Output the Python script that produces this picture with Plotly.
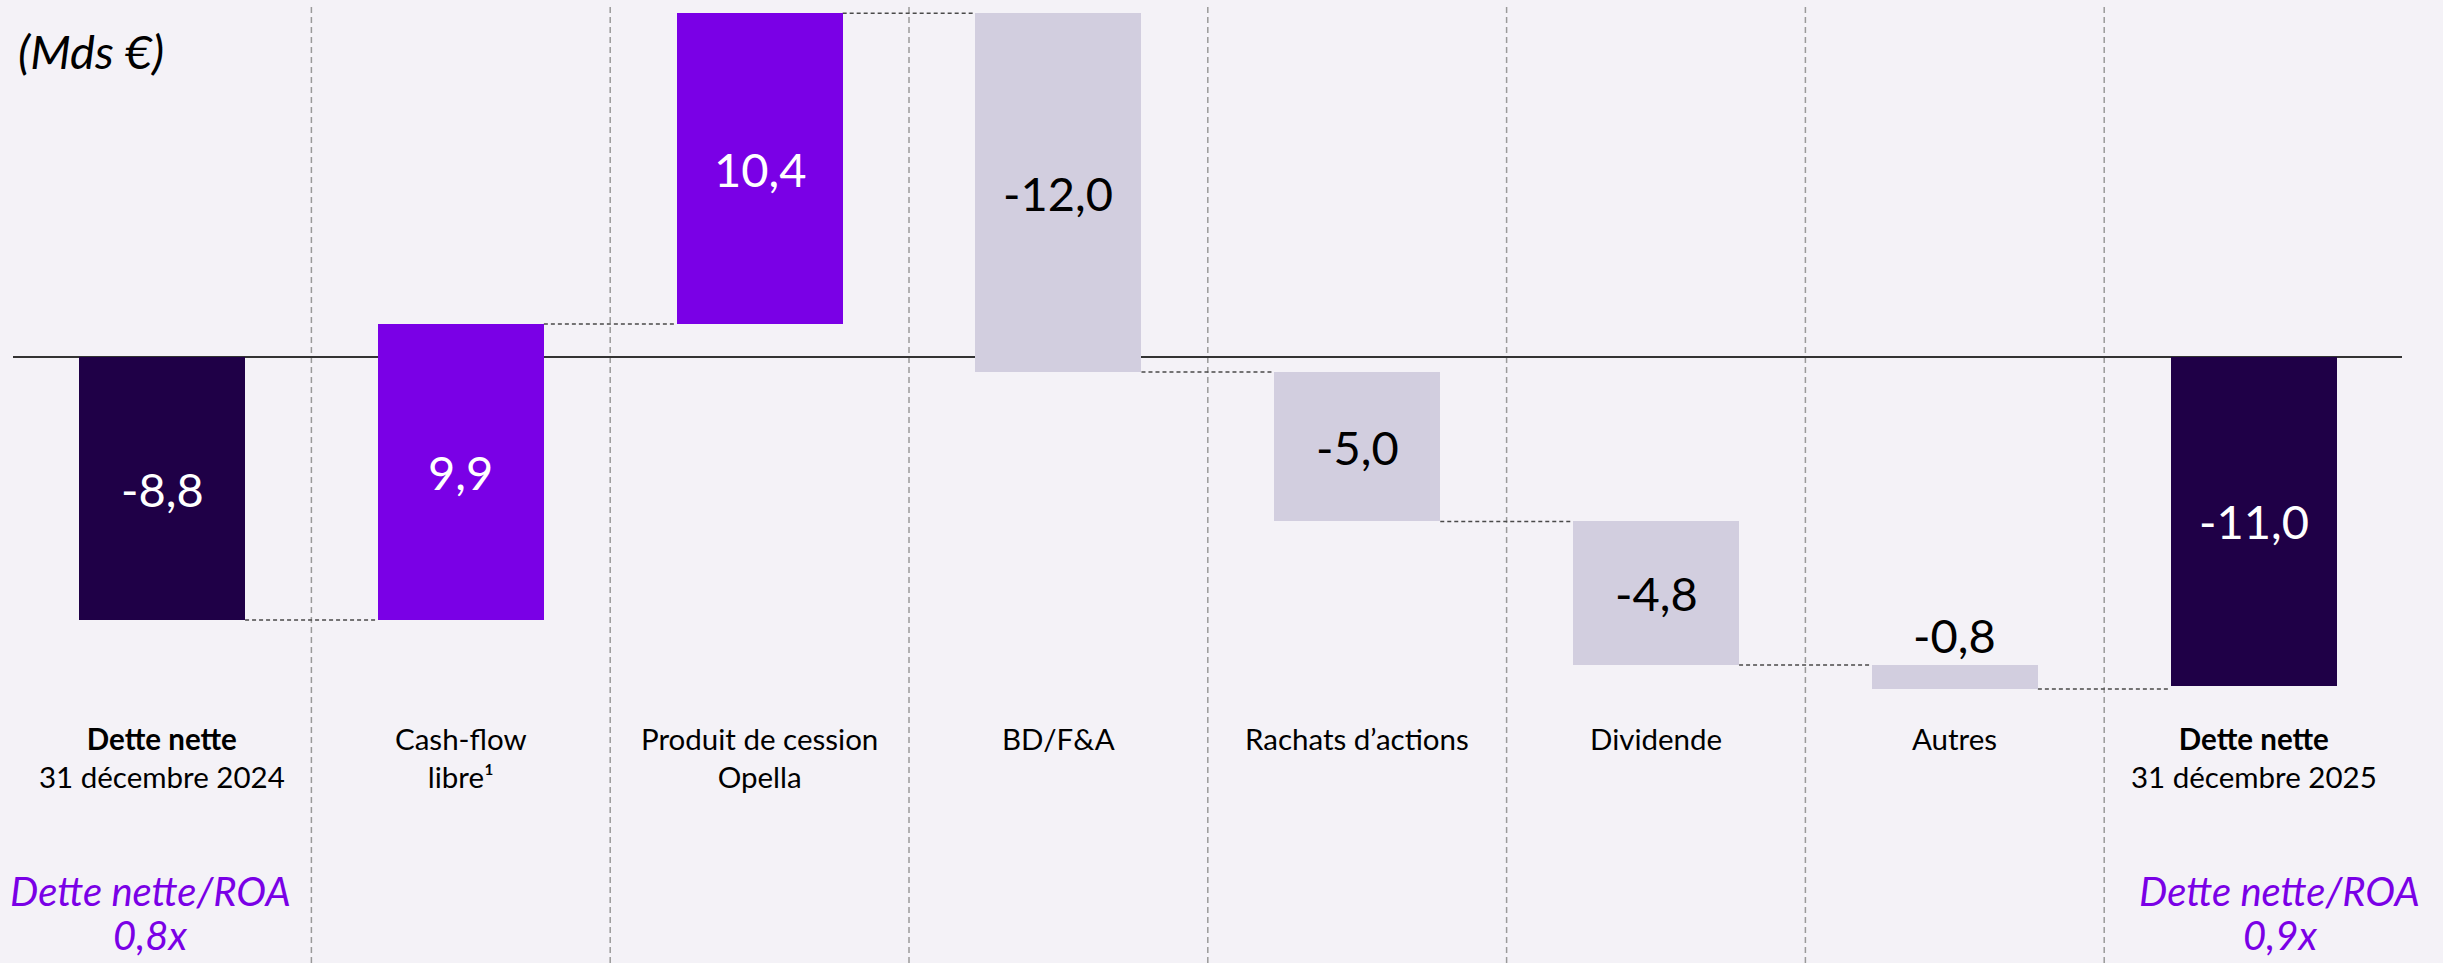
import plotly.graph_objects as go

# ---------------- data ----------------
categories = ["Dette nette 2024", "Cash-flow libre", "Produit de cession Opella", "BD/F&A",
              "Rachats d'actions", "Dividende", "Autres", "Dette nette 2025"]
category_labels = ["<b>Dette nette</b><br>31 décembre 2024", "Cash-flow<br>libre¹",
                   "Produit de cession<br>Opella", "BD/F&A", "Rachats d’actions",
                   "Dividende", "Autres", "<b>Dette nette</b><br>31 décembre 2025"]
start_value = -8.8
deltas = [9.9, 10.4, -12.0, -5.0, -4.8, -0.8]
end_value = -11.0
ratio_title = "Dette nette/ROA"
ratio_values = ["0,8x", "0,9x"]
unit_label = "<i>(Mds €)</i>"

# ---------------- styles ----------------
BG = "#F4F2F7"
DARK = "#1F0047"
PURPLE = "#7A00E6"
GREY = "#D2CEDF"
FONT = "Lato"
W, H = 2443, 963
BAR_W = 0.556

# ---------------- waterfall geometry from data ----------------
bases, heights, colors, txtcolors = [], [], [], []
bases.append(0.0); heights.append(start_value); colors.append(DARK); txtcolors.append("white")
level = start_value
levels = [level]
for d in deltas:
    bases.append(level); heights.append(d)
    colors.append(PURPLE if d > 0 else GREY)
    txtcolors.append("white" if d > 0 else "black")
    level += d
    levels.append(level)
bases.append(0.0); heights.append(end_value); colors.append(DARK); txtcolors.append("white")
values = [start_value] + deltas + [end_value]
xs = list(range(len(categories)))

fig = go.Figure()
fig.add_trace(go.Bar(x=xs, y=heights, base=bases, width=BAR_W,
                     marker=dict(color=colors, line=dict(width=0)),
                     hoverinfo="skip", showlegend=False))

# connectors
for i in range(len(categories) - 1):
    fig.add_shape(type="line", xref="x", yref="y",
                  x0=i + BAR_W / 2, x1=i + 1 - BAR_W / 2, y0=levels[i], y1=levels[i],
                  line=dict(color="#4A4A4A", width=1.5, dash="4px,3px"), layer="below")

# vertical separators
for i in range(len(categories) - 1):
    fig.add_shape(type="line", xref="x", yref="paper", x0=i + 0.5, x1=i + 0.5,
                  y0=0, y1=1 - 6 / H, line=dict(color="#9A9A9A", width=1.5, dash="6px,4px"),
                  layer="below")

# zero line
fig.add_shape(type="line", xref="paper", yref="y", x0=13 / W, x1=2402 / W, y0=0, y1=0,
              line=dict(color="#333333", width=2), layer="below")

# value labels
for i, (b, h, v) in enumerate(zip(bases, heights, values)):
    txt = f"{v:.1f}".replace(".", ",")
    if abs(h) < 1.5:
        top = max(b, b + h)
        fig.add_annotation(x=i, y=top, text=txt, showarrow=False, yanchor="bottom", yshift=0,
                           font=dict(family=FONT, size=47, color="black"))
    else:
        fig.add_annotation(x=i, y=b + h / 2, text=txt, showarrow=False, yanchor="middle",
                           font=dict(family=FONT, size=47, color=txtcolors[i]))

# category labels
for i, lab in enumerate(category_labels):
    fig.add_annotation(x=i, y=1 - 719 / H, xref="x", yref="paper", text=lab, showarrow=False,
                       yanchor="top", align="center",
                       font=dict(family=FONT, size=29.5, color="black"))

# ratio labels (two lines each)
for idx, shift, val in [(0, -12, ratio_values[0]), (len(categories) - 1, 26, ratio_values[1])]:
    for line_txt, py in [(ratio_title, 891), (val, 935)]:
        fig.add_annotation(x=idx, y=1 - py / H, xref="x", yref="paper",
                           text=f"<i>{line_txt}</i>", showarrow=False,
                           xshift=shift, yanchor="middle", align="center",
                           font=dict(family=FONT, size=40, color=PURPLE))

# unit label
fig.add_annotation(x=16 / W, y=1 - 51 / H, xref="paper", yref="paper", text=unit_label,
                   showarrow=False, xanchor="left", yanchor="middle",
                   font=dict(family=FONT, size=47, color="black"))

px_per_unit = 29.9
zero_px = 357
fig.update_layout(
    width=W, height=H, margin=dict(l=0, r=0, t=0, b=0),
    paper_bgcolor=BG, plot_bgcolor=BG,
    xaxis=dict(range=[-162 / 298.8, (W - 162) / 298.8], visible=False, fixedrange=True),
    yaxis=dict(range=[-(H - zero_px) / px_per_unit, zero_px / px_per_unit], visible=False,
               fixedrange=True),
    bargap=0,
)

fig.write_html("out.html", config={"displayModeBar": False, "staticPlot": True},
               post_script="document.body.style.margin='0';document.body.style.overflow='hidden';")
